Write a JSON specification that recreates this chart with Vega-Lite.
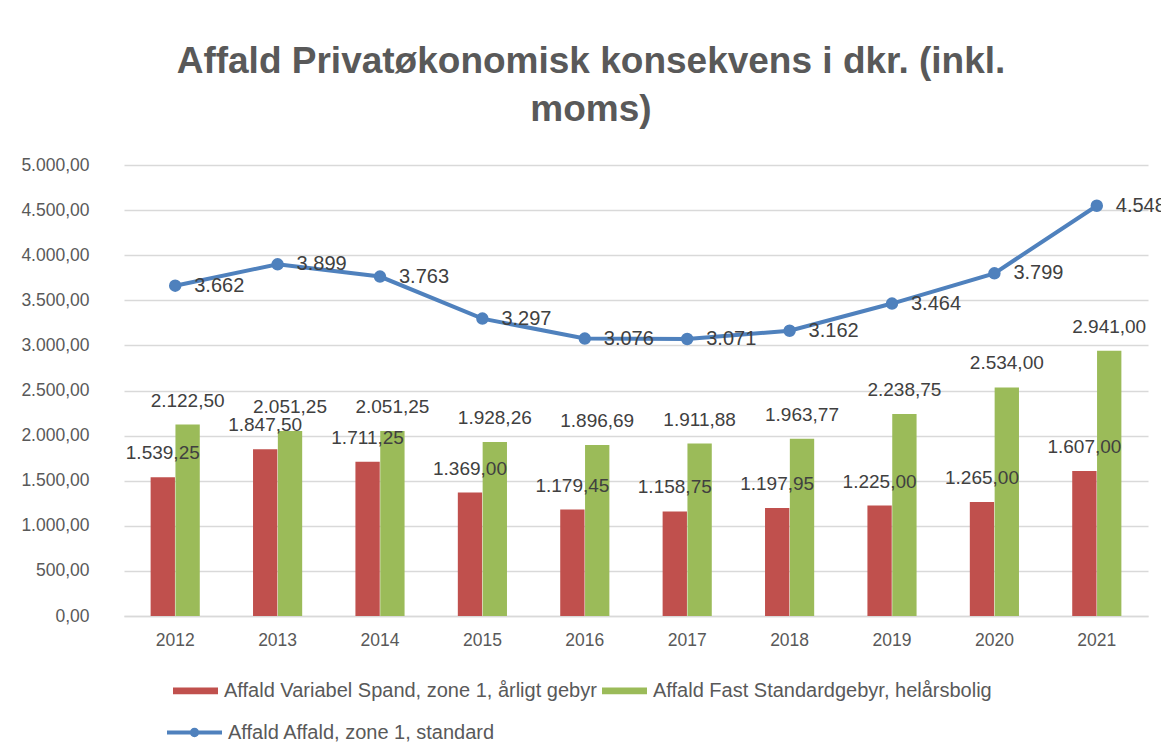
{
  "$schema": "https://vega.github.io/schema/vega-lite/v6.json",
  "width": 1024,
  "height": 451,
  "autosize": {"type": "none"},
  "padding": {"left": 124, "top": 165, "right": 13, "bottom": 137},
  "background": "white",
  "title": {
    "text": ["Affald Privatøkonomisk konsekvens i dkr. (inkl.", "moms)"],
    "font": "Liberation Sans",
    "fontSize": 37,
    "fontWeight": "bold",
    "color": "#595959",
    "anchor": "middle",
    "dx": -45,
    "offset": 27,
    "lineHeight": 48
  },
  "config": {
    "locale": {"number": {"decimal": ",", "thousands": ".", "grouping": [3], "currency": ["", " kr."]}},
    "view": {"stroke": null},
    "font": "Liberation Sans"
  },
  "data": {
    "values": [
      {"year": "2012", "series": "Affald Variabel Spand, zone 1, årligt gebyr", "value": 1539.25},
      {"year": "2013", "series": "Affald Variabel Spand, zone 1, årligt gebyr", "value": 1847.50},
      {"year": "2014", "series": "Affald Variabel Spand, zone 1, årligt gebyr", "value": 1711.25},
      {"year": "2015", "series": "Affald Variabel Spand, zone 1, årligt gebyr", "value": 1369.00},
      {"year": "2016", "series": "Affald Variabel Spand, zone 1, årligt gebyr", "value": 1179.45},
      {"year": "2017", "series": "Affald Variabel Spand, zone 1, årligt gebyr", "value": 1158.75},
      {"year": "2018", "series": "Affald Variabel Spand, zone 1, årligt gebyr", "value": 1197.95},
      {"year": "2019", "series": "Affald Variabel Spand, zone 1, årligt gebyr", "value": 1225.00},
      {"year": "2020", "series": "Affald Variabel Spand, zone 1, årligt gebyr", "value": 1265.00},
      {"year": "2021", "series": "Affald Variabel Spand, zone 1, årligt gebyr", "value": 1607.00},
      {"year": "2012", "series": "Affald Fast Standardgebyr, helårsbolig", "value": 2122.50},
      {"year": "2013", "series": "Affald Fast Standardgebyr, helårsbolig", "value": 2051.25},
      {"year": "2014", "series": "Affald Fast Standardgebyr, helårsbolig", "value": 2051.25},
      {"year": "2015", "series": "Affald Fast Standardgebyr, helårsbolig", "value": 1928.26},
      {"year": "2016", "series": "Affald Fast Standardgebyr, helårsbolig", "value": 1896.69},
      {"year": "2017", "series": "Affald Fast Standardgebyr, helårsbolig", "value": 1911.88},
      {"year": "2018", "series": "Affald Fast Standardgebyr, helårsbolig", "value": 1963.77},
      {"year": "2019", "series": "Affald Fast Standardgebyr, helårsbolig", "value": 2238.75},
      {"year": "2020", "series": "Affald Fast Standardgebyr, helårsbolig", "value": 2534.00},
      {"year": "2021", "series": "Affald Fast Standardgebyr, helårsbolig", "value": 2941.00},
      {"year": "2012", "series": "Affald Affald, zone 1, standard", "value": 3662},
      {"year": "2013", "series": "Affald Affald, zone 1, standard", "value": 3899},
      {"year": "2014", "series": "Affald Affald, zone 1, standard", "value": 3763},
      {"year": "2015", "series": "Affald Affald, zone 1, standard", "value": 3297},
      {"year": "2016", "series": "Affald Affald, zone 1, standard", "value": 3076},
      {"year": "2017", "series": "Affald Affald, zone 1, standard", "value": 3071},
      {"year": "2018", "series": "Affald Affald, zone 1, standard", "value": 3162},
      {"year": "2019", "series": "Affald Affald, zone 1, standard", "value": 3464},
      {"year": "2020", "series": "Affald Affald, zone 1, standard", "value": 3799},
      {"year": "2021", "series": "Affald Affald, zone 1, standard", "value": 4548}
    ]
  },
  "encoding": {
    "x": {
      "field": "year",
      "type": "nominal",
      "scale": {"paddingInner": 0.52, "paddingOuter": 0.26},
      "axis": {
        "title": null,
        "labelAngle": 0,
        "labelFont": "Liberation Sans",
        "labelFontSize": 17.5,
        "labelColor": "#595959",
        "labelPadding": 15,
        "ticks": false,
        "domainColor": "#D9D9D9",
        "domainWidth": 1.5
      }
    },
    "y": {
      "field": "value",
      "type": "quantitative",
      "scale": {"domain": [0, 5000], "nice": false},
      "axis": {
        "title": null,
        "values": [0, 500, 1000, 1500, 2000, 2500, 3000, 3500, 4000, 4500, 5000],
        "format": ",.2f",
        "labelFont": "Liberation Sans",
        "labelFontSize": 17.5,
        "labelColor": "#595959",
        "labelPadding": 35,
        "ticks": false,
        "domain": false,
        "gridColor": "#D9D9D9",
        "gridWidth": 1.5
      }
    }
  },
  "layer": [
    {
      "transform": [{"filter": "datum.series !== 'Affald Affald, zone 1, standard'"}],
      "mark": {"type": "bar"},
      "encoding": {
        "xOffset": {"field": "series", "type": "nominal", "sort": ["Affald Variabel Spand, zone 1, årligt gebyr", "Affald Fast Standardgebyr, helårsbolig"], "scale": {"paddingInner": 0.02}},
        "fill": {
          "field": "series",
          "type": "nominal",
          "sort": ["Affald Variabel Spand, zone 1, årligt gebyr", "Affald Fast Standardgebyr, helårsbolig"],
          "scale": {"domain": ["Affald Variabel Spand, zone 1, årligt gebyr", "Affald Fast Standardgebyr, helårsbolig"], "range": ["#C0504D", "#9BBB59"]},
          "legend": {
            "title": null,
            "orient": "none",
            "direction": "horizontal",
            "legendX": 49,
            "legendY": 503,
            "symbolType": "M-1,-0.15H1V0.15H-1Z",
            "symbolSize": 2025,
            "symbolStrokeWidth": 0,
            "labelFont": "Liberation Sans",
            "labelFontSize": 20,
            "labelColor": "#595959",
            "labelOffset": 6,
            "labelLimit": 500,
            "columnPadding": 5
          }
        }
      }
    },
    {
      "transform": [{"filter": "datum.series !== 'Affald Affald, zone 1, standard'"}],
      "mark": {"type": "text", "baseline": "middle", "dy": -24, "fontSize": 19, "color": "#404040", "font": "Liberation Sans"},
      "encoding": {
        "xOffset": {"field": "series", "type": "nominal", "sort": ["Affald Variabel Spand, zone 1, årligt gebyr", "Affald Fast Standardgebyr, helårsbolig"], "scale": {"paddingInner": 0.02}},
        "text": {"field": "value", "type": "quantitative", "format": ",.2f"}
      }
    },
    {
      "transform": [{"filter": "datum.series === 'Affald Affald, zone 1, standard'"}],
      "mark": {"type": "line", "strokeWidth": 4, "point": {"filled": true, "size": 110, "color": "#4F81BD"}},
      "encoding": {
        "stroke": {
          "field": "series",
          "type": "nominal",
          "scale": {"range": ["#4F81BD"]},
          "legend": {
            "title": null,
            "orient": "none",
            "legendX": 41,
            "legendY": 538,
            "symbolType": "M-1,0H1M0.1,0A0.1,0.1,0,1,1,-0.1,0A0.1,0.1,0,1,1,0.1,0Z",
            "symbolSize": 3025,
            "symbolStrokeWidth": 4,
            "symbolFillColor": "#4F81BD",
            "labelFont": "Liberation Sans",
            "labelFontSize": 20,
            "labelColor": "#595959",
            "labelOffset": 4,
            "labelLimit": 500
          }
        }
      }
    },
    {
      "transform": [{"filter": "datum.series === 'Affald Affald, zone 1, standard'"}],
      "mark": {"type": "text", "align": "left", "baseline": "middle", "dx": 19, "fontSize": 20, "color": "#404040", "font": "Liberation Sans"},
      "encoding": {
        "text": {"field": "value", "type": "quantitative", "format": ",.0f"}
      }
    }
  ]
}
